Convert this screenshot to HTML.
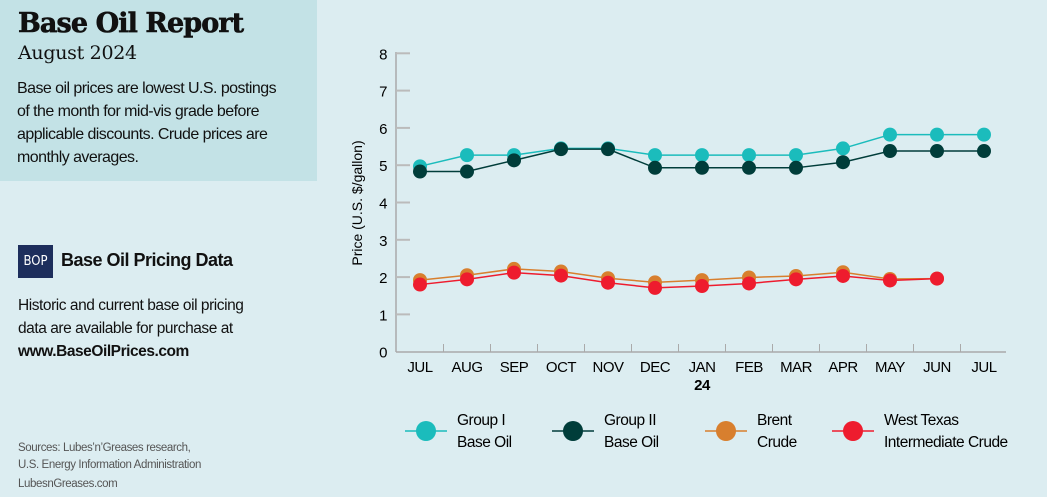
<!DOCTYPE html><html><head><style>
body{margin:0;width:1047px;height:497px;background:#dcedf1;font-family:"Liberation Sans",sans-serif;overflow:hidden;position:relative;color:#111}
.box{position:absolute;left:0;top:0;width:317px;height:181px;background:#c3e2e6}
.t{position:absolute;left:18px;top:8px;font:900 27px "DejaVu Serif",serif;letter-spacing:-0.9px;-webkit-text-stroke:0.6px #111}
.s{position:absolute;left:18px;top:42px;font:19px "DejaVu Serif",serif;letter-spacing:-0.3px}
.p{position:absolute;left:17px;top:77px;font:16px/23px "Liberation Sans",sans-serif;letter-spacing:-0.55px;white-space:nowrap}
.n{letter-spacing:-0.45px}
</style></head><body>
<div class="box"></div>
<div class="t">Base Oil Report</div>
<div class="s">August 2024</div>
<div class="p">Base oil prices are lowest U.S. postings<br>of the month for mid-vis grade before<br>applicable discounts. Crude prices are<br>monthly averages.</div>
<div style="position:absolute;left:18px;top:245px;width:35px;height:33px;background:#1d2e5c;color:#fff;font:13px 'DejaVu Sans Condensed','DejaVu Sans',sans-serif;line-height:33px;text-align:center">BOP</div>
<div style="position:absolute;left:61px;top:250px;font:bold 18px 'Liberation Sans',sans-serif;letter-spacing:-0.5px">Base Oil Pricing Data</div>
<div class="n" style="position:absolute;left:18px;top:294px;font:15.5px/23px 'Liberation Sans',sans-serif">Historic and current base oil pricing<br>data are available for purchase at<br><b>www.BaseOilPrices.com</b></div>
<div style="position:absolute;left:18px;top:440px;font:11.5px/17px 'Liberation Sans',sans-serif;color:#555;letter-spacing:-0.4px">Sources: Lubes’n’Greases research,<br>U.S. Energy Information Administration</div>
<div style="position:absolute;left:18px;top:478px;font:11.5px 'Liberation Sans',sans-serif;color:#555;letter-spacing:-0.4px">LubesnGreases.com</div>
<svg width="1047" height="497" style="position:absolute;left:0;top:0" font-family="Liberation Sans, sans-serif" letter-spacing="-0.5">
</svg>
<script>
const s=document.querySelector('svg');let h='';
const X=i=>420+47*i, Y=v=>351.7-37.3*v;
h+='<line x1="396" y1="52" x2="396" y2="352" stroke="#aaa" stroke-width="1.5"/><line x1="396" y1="352" x2="1006" y2="352" stroke="#aaa" stroke-width="1.5"/>';
for(let v=0;v<=8;v++){h+=`<line x1="396" y1="${Y(v)}" x2="${v==0?396:410}" y2="${Y(v)}" stroke="#bbb" stroke-width="2"/><text x="383" y="${Y(v)+6}" font-size="15" text-anchor="middle">${v}</text>`}
const m=['JUL','AUG','SEP','OCT','NOV','DEC','JAN','FEB','MAR','APR','MAY','JUN','JUL'];
m.forEach((t,i)=>{h+=`<text x="${X(i)}" y="372" font-size="15" text-anchor="middle">${t}</text>`;if(i<12)h+=`<line x1="${X(i)+23.5}" y1="344" x2="${X(i)+23.5}" y2="352" stroke="#aaa"/>`});
h+=`<text x="702" y="390" font-size="15" font-weight="bold" text-anchor="middle">24</text>`;
h+=`<text transform="translate(362,203) rotate(-90)" font-size="14" text-anchor="middle" letter-spacing="0">Price (U.S. $/gallon)</text>`;
const S=[['#1bbcbc',[4.97,5.27,5.27,5.45,5.45,5.27,5.27,5.27,5.27,5.45,5.82,5.82,5.82]],
['#003d3a',[4.83,4.83,5.13,5.43,5.43,4.93,4.93,4.93,4.93,5.08,5.38,5.38,5.38]],
['#d87f2e',[1.92,2.05,2.22,2.15,1.97,1.86,1.92,1.99,2.03,2.13,1.95,1.96]],
['#ee1c2e',[1.80,1.94,2.12,2.04,1.85,1.71,1.76,1.83,1.94,2.03,1.91,1.96]]];
S.forEach(([c,d])=>{h+=`<polyline fill="none" stroke="${c}" stroke-width="1.5" points="${d.map((v,i)=>X(i)+','+Y(v)).join(' ')}"/>`;d.forEach((v,i)=>h+=`<circle cx="${X(i)}" cy="${Y(v)}" r="7" fill="${c}"/>`)});
const L=[[405,'#1bbcbc','Group I','Base Oil'],[552,'#003d3a','Group II','Base Oil'],[705,'#d87f2e','Brent','Crude'],[832,'#ee1c2e','West Texas','Intermediate Crude']];
L.forEach(([x,c,a,b])=>{h+=`<line x1="${x}" y1="431" x2="${x+42}" y2="431" stroke="${c}" stroke-width="1.5"/><circle cx="${x+21}" cy="431" r="10" fill="${c}"/><text x="${x+52}" y="425" font-size="15.5">${a}</text><text x="${x+52}" y="447" font-size="15.5">${b}</text>`});
s.innerHTML=h;
</script>
</body></html>
